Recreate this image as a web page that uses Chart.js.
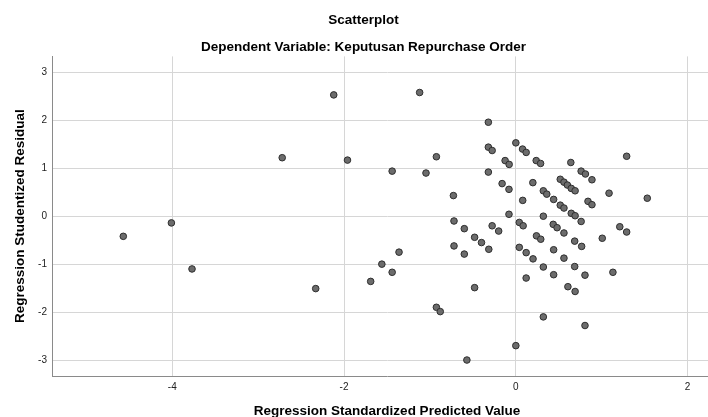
<!DOCTYPE html>
<html>
<head>
<meta charset="utf-8">
<script src="https://cdn.jsdelivr.net/npm/chart.js@4.4.1/dist/chart.umd.min.js"></script>
<style>
  html, body { margin: 0; padding: 0; background: #fff; }
  #wrap { width: 708px; height: 417px; overflow: hidden; }
</style>
</head>
<body>
<div id="wrap"><canvas id="myChart" width="727" height="417"></canvas></div>
<script>
var predictedValues = [
  -4.57, -4.01, -3.77, -2.72, -2.33, -2.12, -1.96, -1.69, -1.56, -1.44, -1.44, -1.36, -1.12,
  -0.32, -0.925, -1.046, -0.32, -0.276, -0.125, -0.078, 0.0, 0.078, 0.12, 0.237, 0.288, 0.64, 0.76,
  -0.32, -0.727, -0.16, -0.08, 0.198, 0.08, 0.32, 0.36, 0.44, 0.517, 0.56, 0.60, 0.645, 0.69,
  0.517, 0.56, 0.645, 0.69, -0.08, 0.32, -0.72, -0.60, -0.276, 0.04, 0.085, 0.435,
  0.48, 0.56, -0.20, -0.48, -0.40, -0.315, -0.72, -0.60, 0.04, 0.12, 0.20, 0.24, 0.29, 0.44,
  0.56, 0.685, 0.766, 0.32, 0.685, 0.12, 0.44, -0.48, 0.606, 0.69, -0.925, -0.88, 0.32,
  1.29, 0.81, 0.886, 1.085, 1.53, 0.84, 0.886, 0.76, 1.21,
  1.29, 1.006, 0.805, 1.13, 0.805,
  -0.57, 0.0
];
var residuals = [
  -0.42, -0.14, -1.10, 1.22, -1.51, 2.53, 1.17, -1.36, -1.00, 0.94, -1.17, -0.75, 2.58,
  1.96, 1.24, 0.90, 1.44, 1.37, 1.16, 1.08, 1.53, 1.40, 1.33, 1.16, 1.10, 1.12, 0.94,
  0.92, 0.43, 0.68, 0.56, 0.70, 0.33, 0.53, 0.46, 0.35, 0.77, 0.71, 0.65, 0.58, 0.53,
  0.23, 0.17, 0.06, 0.01, 0.04, 0.0, -0.10, -0.26, -0.20, -0.13, -0.20, -0.17,
  -0.24, -0.35, -0.31, -0.44, -0.55, -0.69, -0.62, -0.79, -0.65, -0.76, -0.89, -0.41, -0.48, -0.70,
  -0.875, -0.52, -0.63, -1.06, -1.05, -1.29, -1.22, -1.49, -1.47, -1.57, -1.90, -1.99, -2.10,
  1.25, 0.88, 0.76, 0.48, 0.375, 0.31, 0.24, -0.11, -0.22,
  -0.33, -0.46, -1.23, -1.17, -2.28,
  -3.00, -2.70
];
var xTicks = [-4, -2, 0, 2];
var yTicks = [-3, -2, -1, 0, 1, 2, 3];

var points = predictedValues.map(function (v, i) {
  return { x: v, y: residuals[i] };
});

Chart.defaults.font.family = '"Liberation Sans", Arial, sans-serif';

var ctx = document.getElementById('myChart').getContext('2d');
var myChart = new Chart(ctx, {
  type: 'scatter',
  data: {
    datasets: [{
      data: points,
      pointRadius: 3.3,
      pointBackgroundColor: '#6c6c6c',
      pointBorderColor: '#2e2e2e',
      pointBorderWidth: 1
    }]
  },
  options: {
    responsive: false,
    animation: false,
    layout: { padding: 0 },
    plugins: {
      legend: { display: false },
      tooltip: { enabled: false },
      title: {
        display: true,
        text: 'Scatterplot',
        color: '#000',
        font: { size: 13.5, weight: 'bold' },
        padding: { top: 12, bottom: 0 }
      },
      subtitle: {
        display: true,
        text: 'Dependent Variable: Keputusan Repurchase Order',
        color: '#000',
        font: { size: 13.5, weight: 'bold' },
        padding: { top: 11, bottom: 1 }
      }
    },
    scales: {
      x: {
        type: 'linear',
        min: -5.40,
        max: 2.40,
        afterFit: function (scale) { scale.height = 41; },
        afterBuildTicks: function (scale) {
          scale.ticks = xTicks.map(function (v) { return { value: v }; });
        },
        ticks: { color: '#222', font: { size: 10 }, padding: 5, maxRotation: 0 },
        grid: { color: '#d6d6d6', lineWidth: 1, drawTicks: false },
        border: { display: true, color: '#8a8a8a', width: 1 },
        title: {
          display: true,
          text: 'Regression Standardized Predicted Value',
          color: '#000',
          font: { size: 13.5, weight: 'bold' },
          padding: { top: 0, bottom: -2 }
        }
      },
      y: {
        type: 'linear',
        min: -3.333,
        max: 3.333,
        afterFit: function (scale) { scale.width = 52; },
        afterBuildTicks: function (scale) {
          scale.ticks = yTicks.map(function (v) { return { value: v }; });
        },
        ticks: { color: '#222', font: { size: 10 }, padding: 5 },
        grid: { color: '#d6d6d6', lineWidth: 1, drawTicks: false },
        border: { display: true, color: '#8a8a8a', width: 1 },
        title: {
          display: true,
          text: 'Regression Studentized Residual',
          color: '#000',
          font: { size: 13.5, weight: 'bold' },
          padding: { top: 12, bottom: 0 }
        }
      }
    }
  }
});
</script>
</body>
</html>
